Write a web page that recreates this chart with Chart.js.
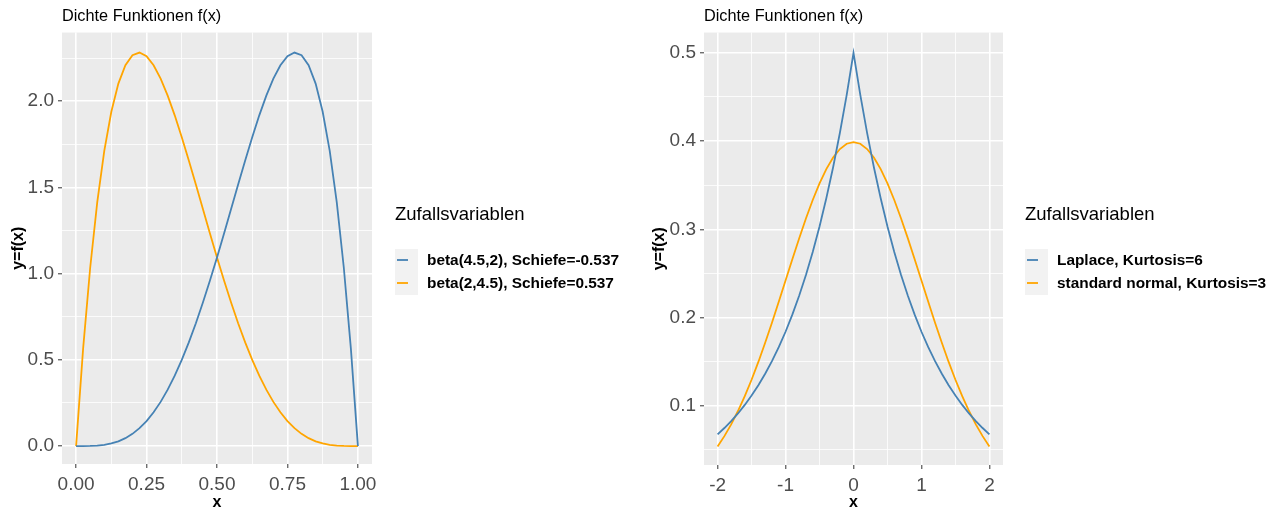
<!DOCTYPE html>
<html>
<head>
<meta charset="utf-8">
<script src="https://cdn.jsdelivr.net/npm/chart.js@4.4.1/dist/chart.umd.min.js"></script>
<style>
  body { margin: 0; background: #fff; }
  .row { display: flex; width: 1282px; height: 512px; }
  canvas { display: block; }
</style>
</head>
<body>
<div class="row">
  <canvas id="betaChart" width="641" height="512"></canvas>
  <canvas id="kurtChart" width="641" height="512"></canvas>
</div>
<script>
// left panel: beta densities
const betaX = [0, 0.025, 0.05, 0.075, 0.1, 0.125, 0.15, 0.175, 0.2, 0.225, 0.25, 0.275, 0.3, 0.325, 0.35, 0.375, 0.4,
  0.425, 0.45, 0.475, 0.5, 0.525, 0.55, 0.575, 0.6, 0.625, 0.65, 0.675, 0.7, 0.725, 0.75, 0.775, 0.8, 0.825, 0.85,
  0.875, 0.9, 0.925, 0.95, 0.975, 1];
const beta452 = [0, 0.0001, 0.0007, 0.0027, 0.0070, 0.0150, 0.0275, 0.0458, 0.0708, 0.1036, 0.1450, 0.1957, 0.2562,
  0.3269, 0.4081, 0.4995, 0.6011, 0.7122, 0.8321, 0.9598, 1.0938, 1.2326, 1.3742, 1.5164, 1.6564, 1.7913, 1.9180,
  2.0325, 2.1308, 2.2085, 2.2606, 2.2820, 2.2668, 2.2091, 2.1020, 1.9386, 1.7117, 1.4130, 1.0341, 0.5663, 0];
const beta245 = [0, 0.5663, 1.0341, 1.4130, 1.7117, 1.9386, 2.1020, 2.2091, 2.2668, 2.2820, 2.2606, 2.2085, 2.1308,
  2.0325, 1.9180, 1.7913, 1.6564, 1.5164, 1.3742, 1.2326, 1.0938, 0.9598, 0.8321, 0.7122, 0.6011, 0.4995, 0.4081,
  0.3269, 0.2562, 0.1957, 0.1450, 0.1036, 0.0708, 0.0458, 0.0275, 0.0150, 0.0070, 0.0027, 0.0007, 0.0001, 0];
const betaLabels = ['beta(4.5,2), Schiefe=-0.537', 'beta(2,4.5), Schiefe=0.537'];
const betaXTicks = [0, 0.25, 0.5, 0.75, 1];
const betaXTickLabels = ['0.00', '0.25', '0.50', '0.75', '1.00'];
const betaXMinor = [0.125, 0.375, 0.625, 0.875];
const betaYTicks = [0, 0.5, 1, 1.5, 2];
const betaYTickLabels = ['0.0', '0.5', '1.0', '1.5', '2.0'];
const betaYMinor = [0.25, 0.75, 1.25, 1.75, 2.25];

// right panel: laplace vs normal
const kurtX = [-2, -1.9, -1.8, -1.7, -1.6, -1.5, -1.4, -1.3, -1.2, -1.1, -1, -0.9, -0.8, -0.7, -0.6, -0.5, -0.4, -0.3,
  -0.2, -0.1, 0, 0.1, 0.2, 0.3, 0.4, 0.5, 0.6, 0.7, 0.8, 0.9, 1, 1.1, 1.2, 1.3, 1.4, 1.5, 1.6, 1.7, 1.8, 1.9, 2];
const laplace = [0.0677, 0.0748, 0.0827, 0.0913, 0.1010, 0.1116, 0.1233, 0.1363, 0.1506, 0.1664, 0.1839, 0.2033,
  0.2247, 0.2483, 0.2744, 0.3033, 0.3352, 0.3704, 0.4094, 0.4524, 0.5000, 0.4524, 0.4094, 0.3704, 0.3352, 0.3033,
  0.2744, 0.2483, 0.2247, 0.2033, 0.1839, 0.1664, 0.1506, 0.1363, 0.1233, 0.1116, 0.1010, 0.0913, 0.0827, 0.0748, 0.0677];
const stdNormal = [0.0540, 0.0656, 0.0790, 0.0941, 0.1109, 0.1295, 0.1497, 0.1714, 0.1942, 0.2179, 0.2420, 0.2661,
  0.2897, 0.3123, 0.3332, 0.3521, 0.3683, 0.3814, 0.3910, 0.3970, 0.3989, 0.3970, 0.3910, 0.3814, 0.3683, 0.3521,
  0.3332, 0.3123, 0.2897, 0.2661, 0.2420, 0.2179, 0.1942, 0.1714, 0.1497, 0.1295, 0.1109, 0.0941, 0.0790, 0.0656, 0.0540];
const kurtLabels = ['Laplace, Kurtosis=6', 'standard normal, Kurtosis=3'];
const kurtXTicks = [-2, -1, 0, 1, 2];
const kurtXTickLabels = ['-2', '-1', '0', '1', '2'];
const kurtXMinor = [-1.5, -0.5, 0.5, 1.5];
const kurtYTicks = [0.1, 0.2, 0.3, 0.4, 0.5];
const kurtYTickLabels = ['0.1', '0.2', '0.3', '0.4', '0.5'];
const kurtYMinor = [0.05, 0.15, 0.25, 0.35, 0.45];

const FONT = '"Liberation Sans", Arial, sans-serif';
const BLUE = '#4682B4';
const ORANGE = '#FFA500';

function findIdx(v, list) {
  return list.findIndex(t => Math.abs(t - v) < 1e-9);
}

// grey panel + ggplot style legend
const ggPanel = {
  id: 'ggPanel',
  beforeDraw(chart) {
    const { ctx, chartArea: a } = chart;
    ctx.save();
    ctx.fillStyle = '#EBEBEB';
    ctx.fillRect(a.left, a.top, a.right - a.left, a.bottom - a.top);
    ctx.restore();
  },
  afterDraw(chart, args, opts) {
    const { ctx, chartArea: a } = chart;
    const x0 = a.right + opts.gap;
    ctx.save();
    ctx.fillStyle = '#000';
    ctx.font = '18.5px ' + FONT;
    ctx.textBaseline = 'alphabetic';
    ctx.fillText(opts.title, x0, 220);
    chart.data.datasets.forEach((ds, i) => {
      const top = 249 + i * 23;
      ctx.fillStyle = '#F2F2F2';
      ctx.fillRect(x0, top, 23, 23);
      ctx.strokeStyle = ds.borderColor;
      ctx.lineWidth = 1.8;
      ctx.beginPath();
      ctx.moveTo(x0 + 2, top + 11);
      ctx.lineTo(x0 + 13, top + 11);
      ctx.stroke();
      ctx.fillStyle = '#000';
      ctx.font = 'bold 15.4px ' + FONT;
      ctx.textBaseline = 'middle';
      ctx.fillText(ds.label, x0 + 32, top + 12);
    });
    ctx.restore();
  }
};

function axis(cfg) {
  const all = cfg.major.concat(cfg.minor).sort((p, q) => p - q);
  const isMajor = c => c.tick && findIdx(c.tick.value, cfg.major) >= 0;
  return {
    type: 'linear',
    min: cfg.min,
    max: cfg.max,
    border: { display: false },
    afterBuildTicks: s => { s.ticks = all.map(v => ({ value: v })); },
    afterFit: s => {
      if (cfg.width) s.width = cfg.width;
      if (cfg.height) s.height = cfg.height;
    },
    grid: {
      color: '#FFFFFF',
      lineWidth: c => isMajor(c) ? 1.6 : 0.8,
      drawTicks: true,
      tickLength: 4,
      tickWidth: 1,
      tickColor: c => isMajor(c) ? '#333333' : 'rgba(0,0,0,0)'
    },
    ticks: {
      autoSkip: false,
      maxRotation: 0,
      padding: cfg.pad,
      color: '#4D4D4D',
      font: { family: FONT, size: 19 },
      callback: v => {
        const k = findIdx(v, cfg.major);
        return k >= 0 ? cfg.labels[k] : '';
      }
    },
    title: {
      display: true,
      text: cfg.title,
      color: '#000',
      font: { family: FONT, size: 16, weight: 'bold' },
      padding: cfg.titlePad
    }
  };
}

function makeChart(id, xs, series, labels, opt) {
  const ctx = document.getElementById(id).getContext('2d');
  return new Chart(ctx, {
    type: 'line',
    data: {
      datasets: series.map((ys, i) => ({
        label: labels[i],
        data: xs.map((x, j) => ({ x: x, y: ys[j] })),
        borderColor: [BLUE, ORANGE][i],
        borderWidth: 1.8,
        pointRadius: 0,
        tension: 0,
        fill: false
      }))
    },
    options: {
      responsive: false,
      animation: false,
      layout: { padding: { top: 0, left: 0, bottom: 0, right: opt.rightPad } },
      plugins: {
        legend: { display: false },
        tooltip: { enabled: false },
        title: {
          display: true,
          text: 'Dichte Funktionen f(x)',
          align: 'start',
          fullSize: false,
          color: '#000',
          font: { family: FONT, size: 16.3, weight: 'normal' },
          padding: { top: 7, bottom: 6 }
        },
        ggPanel: { title: 'Zufallsvariablen', gap: opt.gap }
      },
      scales: {
        x: axis({ min: opt.xMin, max: opt.xMax, major: opt.xMajor, minor: opt.xMinor, labels: opt.xLabels,
          height: opt.xHeight, pad: 5, title: 'x', titlePad: { top: 0, bottom: 0 } }),
        y: axis({ min: opt.yMin, max: opt.yMax, major: opt.yMajor, minor: opt.yMinor, labels: opt.yLabels,
          width: opt.yWidth, pad: 4, title: 'y=f(x)', titlePad: { top: 9, bottom: 9 } })
      }
    },
    plugins: [ggPanel]
  });
}

makeChart('betaChart', betaX, [beta452, beta245], betaLabels, {
  rightPad: 269, gap: 23, xHeight: 48, yWidth: 62,
  xMin: -0.05, xMax: 1.05, xMajor: betaXTicks, xMinor: betaXMinor, xLabels: betaXTickLabels,
  yMin: -0.104, yMax: 2.398, yMajor: betaYTicks, yMinor: betaYMinor, yLabels: betaYTickLabels
});

makeChart('kurtChart', kurtX, [laplace, stdNormal], kurtLabels, {
  rightPad: 279, gap: 22, xHeight: 47, yWidth: 63,
  xMin: -2.2, xMax: 2.2, xMajor: kurtXTicks, xMinor: kurtXMinor, xLabels: kurtXTickLabels,
  yMin: 0.0329, yMax: 0.523, yMajor: kurtYTicks, yMinor: kurtYMinor, yLabels: kurtYTickLabels
});
</script>
</body>
</html>
